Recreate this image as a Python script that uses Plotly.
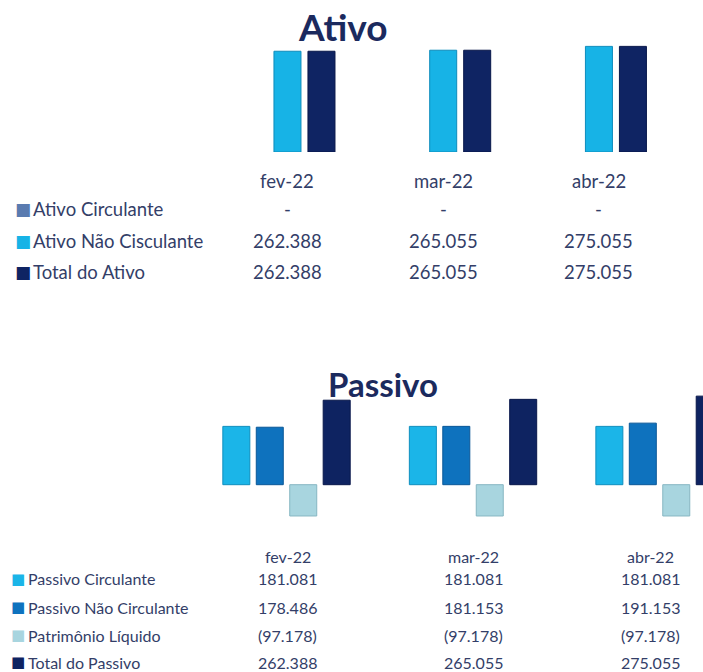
import plotly.graph_objects as go

# ---------------- data ----------------
months = ["fev-22", "mar-22", "abr-22"]

ativo_names = ["Ativo Circulante", "Ativo Não Cisculante", "Total do Ativo"]
ativo_circulante = [0, 0, 0]
ativo_nao_circulante = [262388, 265055, 275055]
total_ativo = [262388, 265055, 275055]

passivo_names = ["Passivo Circulante", "Passivo Não Circulante", "Patrimônio Líquido", "Total do Passivo"]
passivo_circulante = [181081, 181081, 181081]
passivo_nao_circulante = [178486, 181153, 191153]
patrimonio_liquido = [-97178, -97178, -97178]
total_passivo = [262388, 265055, 275055]

# ---------------- style ----------------
W, H = 703, 672
FONT = "Lato"
TXT = "#333E68"
TITLE = "#1B2A5E"

ativo_colors = ["#5A7BB0", "#17B3E6", "#0F2463"]
passivo_colors = ["#1BB5E8", "#0E72BE", "#A8D5DF", "#0E2361"]
ativo_lines = ["#3E5E94", "#0E8CBC", "#08174A"]
passivo_lines = ["#0E8EBE", "#0A5898", "#86B6C2", "#08174A"]


def px(x):
    return x / W


def py(y):
    return 1 - y / H


def fmt(v):
    if v == 0:
        return "-"
    s = f"{abs(v):,}".replace(",", ".")
    return f"({s})" if v < 0 else s


fig = go.Figure()

# Ativo bars
a_series = [ativo_circulante, ativo_nao_circulante, total_ativo]
a_w = 0.1734
a_centers = [-0.2183, 0.0, 0.2183]
for name, vals, col, lc, c in zip(ativo_names, a_series, ativo_colors, ativo_lines, a_centers):
    lw = 1 if any(vals) else 0
    fig.add_trace(go.Bar(x=months, y=vals, name=name, xaxis="x", yaxis="y",
                         marker=dict(color=col, line=dict(color=lc, width=lw)),
                         width=a_w, offset=c - a_w / 2, showlegend=False, hoverinfo="skip"))

# Passivo bars
p_series = [passivo_circulante, passivo_nao_circulante, patrimonio_liquido, total_passivo]
p_w = 0.1448
p_centers = [-0.269, -0.0897, 0.0897, 0.269]
for name, vals, col, lc, c in zip(passivo_names, p_series, passivo_colors, passivo_lines, p_centers):
    fig.add_trace(go.Bar(x=months, y=vals, name=name, xaxis="x2", yaxis="y2",
                         marker=dict(color=col, line=dict(color=lc, width=1)),
                         width=p_w, offset=c - p_w / 2, showlegend=False, hoverinfo="skip"))

ann = []
# Titles
ann.append(dict(text="<b>Ativo</b>", xref="paper", yref="paper", x=px(343), y=py(27),
                xanchor="center", yanchor="middle", showarrow=False,
                font=dict(family=FONT, size=37, color=TITLE)))
ann.append(dict(text="<b>Passivo</b>", xref="paper", yref="paper", x=px(382.5), y=py(384),
                xanchor="center", yanchor="middle", showarrow=False,
                font=dict(family=FONT, size=33, color=TITLE)))

# Ativo data table
a_rows_y = [208.5, 240.5, 272.5]
a_fs = 18.5
for m in months:
    ann.append(dict(text=m, xref="x", yref="paper", x=m, y=py(180.5), xanchor="center",
                    yanchor="middle", showarrow=False, font=dict(family=FONT, size=a_fs, color=TXT)))
for name, vals, col, yy in zip(ativo_names, a_series, ativo_colors, a_rows_y):
    ann.append(dict(text="■", xref="paper", yref="paper", x=px(22.5), y=py(yy), xanchor="center",
                    yanchor="middle", showarrow=False, font=dict(family="DejaVu Sans", size=17, color=col)))
    ann.append(dict(text=name, xref="paper", yref="paper",
                    x=px(31), y=py(yy), xanchor="left", yanchor="middle", showarrow=False,
                    font=dict(family=FONT, size=a_fs, color=TXT)))
    for m, v in zip(months, vals):
        ann.append(dict(text=fmt(v), xref="x", yref="paper", x=m, y=py(yy), xanchor="center",
                        yanchor="middle", showarrow=False, font=dict(family=FONT, size=a_fs, color=TXT)))

# Passivo data table
p_rows_y = [578.5, 607, 635, 662]
p_fs = 16
col_shift = [1, 0, -9]
for m, sh in zip(months, col_shift):
    ann.append(dict(text=m, xref="x2", yref="paper", x=m, y=py(556), xanchor="center", xshift=sh,
                    yanchor="middle", showarrow=False, font=dict(family=FONT, size=p_fs, color=TXT)))
for name, vals, col, yy in zip(passivo_names, p_series, passivo_colors, p_rows_y):
    ann.append(dict(text="■", xref="paper", yref="paper", x=px(17.5), y=py(yy), xanchor="center",
                    yanchor="middle", showarrow=False, font=dict(family="DejaVu Sans", size=15, color=col)))
    ann.append(dict(text=name, xref="paper", yref="paper",
                    x=px(26), y=py(yy), xanchor="left", yanchor="middle", showarrow=False,
                    font=dict(family=FONT, size=p_fs, color=TXT)))
    for m, v, sh in zip(months, vals, col_shift):
        ann.append(dict(text=fmt(v), xref="x2", yref="paper", x=m, y=py(yy), xanchor="center", xshift=sh,
                        yanchor="middle", showarrow=False, font=dict(family=FONT, size=p_fs, color=TXT)))

hidden = dict(visible=False, showgrid=False, zeroline=False, fixedrange=True)
fig.update_layout(
    width=W, height=H, margin=dict(l=0, r=0, t=0, b=0),
    paper_bgcolor="white", plot_bgcolor="rgba(0,0,0,0)",
    barmode="overlay", showlegend=False,
    xaxis=dict(type="category", categoryarray=months, domain=[px(209.6), px(676.8)],
               range=[-0.5, 2.5], **hidden),
    yaxis=dict(domain=[py(152), py(36.8)], range=[0, 300000], **hidden),
    xaxis2=dict(type="category", categoryarray=months, domain=[px(193.25), 1],
                range=[-0.5, 2.233], anchor="y2", **hidden),
    yaxis2=dict(domain=[py(520.1), py(388.1)], range=[-110000, 300000], anchor="x2", **hidden),
    annotations=ann,
)

fig.write_html("out.html", config={"displayModeBar": False},
               post_script="document.body.style.margin='0';document.body.style.overflow='hidden';")
